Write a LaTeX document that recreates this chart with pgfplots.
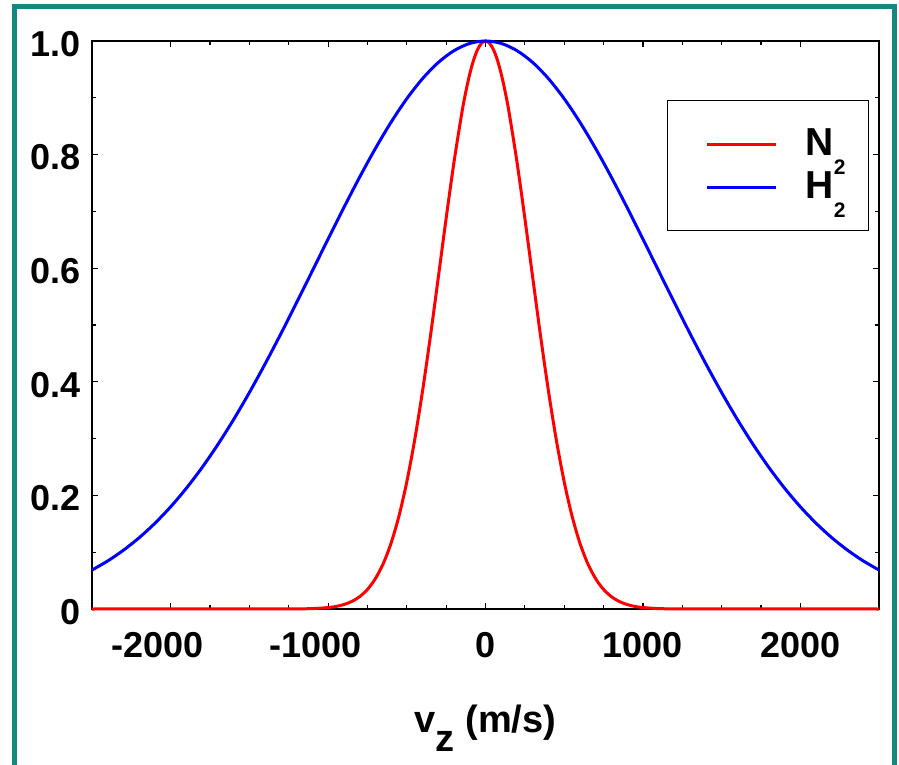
\documentclass[border=0pt]{standalone}
\usepackage{fontspec}
\setmainfont{Liberation Sans}
\usepackage{pgfplots}
\pgfplotsset{compat=1.18}
\definecolor{frameteal}{RGB}{18,136,128}
\newcommand\tickfont{\fontsize{36}{40}\selectfont\bfseries}
\newcommand\labelfont{\fontsize{38}{42}\selectfont\bfseries}
\newcommand\legendfont{\fontsize{39}{42}\selectfont\bfseries}
\newcommand\legsub[1]{\lower19pt\hbox{\fontsize{21}{21}\selectfont\bfseries #1}}
\begin{document}
\begin{tikzpicture}
\useasboundingbox (-92pt,-156pt) rectangle (807pt,609pt);
% frame round the picture (its lower edge lies outside the page)
\draw[frameteal, line width=5pt] (-77.5pt,-170pt) -- (-77.5pt,602.5pt) -- (802.5pt,602.5pt) -- (802.5pt,-170pt);
\begin{axis}[
  scale only axis, width=787pt, height=568pt,
  xmin=-2500, xmax=2500, ymin=0, ymax=1,
  xtick={-2000,-1000,0,1000,2000},
  xticklabels={\kern-26pt-2000,\kern-26pt-1000,0,1000,2000},
  ytick={0,0.2,0.4,0.6,0.8,1.0},
  yticklabels={0,0.2,0.4,0.6,0.8,1.0},
  minor x tick num=3, minor y tick num=1,
  tick align=inside,
  major tick length=6pt, minor tick length=4pt,
  every tick/.style={black, line width=1.2pt},
  axis line style={line width=2pt},
  xticklabel style={font=\tickfont, inner sep=0pt, anchor=north, yshift=-23pt},
  yticklabel style={font=\tickfont, inner sep=0pt, anchor=east, xshift=-11pt, yshift=-3pt},
  xlabel={v\raisebox{-19pt}{z} (m/s)},
  xlabel style={font=\labelfont, at={(axis description cs:0.5,0)}, anchor=base, yshift=-123pt, inner sep=0pt},
  clip=false,
  legend cell align=left,
  legend style={at={(axis description cs:0.7306,0.8961)}, anchor=north west,
    draw=black, line width=1.2pt, inner xsep=23pt, inner ysep=22pt,
    column sep=28pt, row sep=0pt, font=\legendfont,
    nodes={inner sep=0pt, text height=33pt, text depth=10pt}},
  legend image code/.code={\path (-15pt,0pt); \draw[#1, line width=3pt] (0pt,0pt) -- (69pt,0pt);},
]
\addplot[red, line width=3pt, smooth] coordinates {
  (-2500,0) (-1300,0.00004) (-1200,0.00018) (-1100,0.00071) (-1000,0.00251)
  (-950,0.00450) (-900,0.00784) (-850,0.01323) (-800,0.02168) (-750,0.03448)
  (-700,0.05322) (-650,0.07971) (-600,0.11589) (-550,0.16350) (-500,0.22388)
  (-450,0.29752) (-400,0.38372) (-350,0.48030) (-300,0.58346) (-250,0.68787)
  (-200,0.78705) (-150,0.87398) (-125,0.91070) (-100,0.94189) (-75,0.96689)
  (-50,0.98514) (-25,0.99627) (0,1)
  (25,0.99627) (50,0.98514) (75,0.96689) (100,0.94189) (125,0.91070)
  (150,0.87398) (200,0.78705) (250,0.68787) (300,0.58346) (350,0.48030)
  (400,0.38372) (450,0.29752) (500,0.22388) (550,0.16350) (600,0.11589)
  (650,0.07971) (700,0.05322) (750,0.03448) (800,0.02168) (850,0.01323)
  (900,0.00784) (950,0.00450) (1000,0.00251) (1100,0.00071) (1200,0.00018)
  (1300,0.00004) (2500,0)
};
\addlegendentry{N\legsub{2}}
\addplot[blue, line width=3pt, smooth] coordinates {
  (-2500,0.06862) (-2400,0.08466) (-2300,0.10355) (-2200,0.12559) (-2100,0.15101)
  (-2000,0.18002) (-1900,0.21278) (-1800,0.24935) (-1700,0.28972) (-1600,0.33374)
  (-1500,0.38117) (-1400,0.43163) (-1300,0.48459) (-1200,0.53941) (-1100,0.59530)
  (-1000,0.65138) (-900,0.70665) (-800,0.76007) (-700,0.81054) (-600,0.85700)
  (-500,0.89838) (-400,0.93371) (-300,0.96216) (-200,0.98300) (-100,0.99572)
  (0,1)
  (100,0.99572) (200,0.98300) (300,0.96216) (400,0.93371) (500,0.89838)
  (600,0.85700) (700,0.81054) (800,0.76007) (900,0.70665) (1000,0.65138)
  (1100,0.59530) (1200,0.53941) (1300,0.48459) (1400,0.43163) (1500,0.38117)
  (1600,0.33374) (1700,0.28972) (1800,0.24935) (1900,0.21278) (2000,0.18002)
  (2100,0.15101) (2200,0.12559) (2300,0.10355) (2400,0.08466) (2500,0.06862)
};
\addlegendentry{H\legsub{2}}
\end{axis}
\end{tikzpicture}
\end{document}
